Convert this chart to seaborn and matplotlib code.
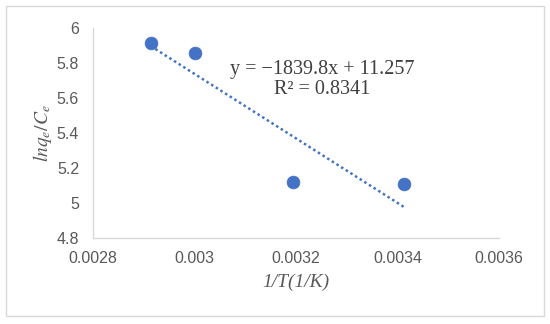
import numpy as np
import pandas as pd
import seaborn as sns
import matplotlib
matplotlib.use("Agg")
import matplotlib.pyplot as plt
from matplotlib.patches import Rectangle

# data
inv_T = [0.002914, 0.003002, 0.003194, 0.003413]
ln_qc = [5.916, 5.857, 5.122, 5.109]

# trendline reported on the chart
slope = -1839.8
intercept = 11.257
r2 = 0.8341

x_ticks = [0.0028, 0.003, 0.0032, 0.0034, 0.0036]
x_tick_labels = ["0.0028", "0.003", "0.0032", "0.0034", "0.0036"]
y_ticks = [4.8, 5, 5.2, 5.4, 5.6, 5.8, 6]
y_tick_labels = ["4.8", "5", "5.2", "5.4", "5.6", "5.8", "6"]

df = pd.DataFrame({"x": inv_T, "y": ln_qc})

sns.set_style("white")
plt.rcParams["font.family"] = ["Liberation Sans", "DejaVu Sans"]
plt.rcParams["mathtext.fontset"] = "stix"

blue = "#4472C4"
grey = "#595959"

fig = plt.figure(figsize=(5.5, 3.24), dpi=100)
ax = fig.add_axes([0.169, 0.265, 0.738, 0.649])

# trend line over data range
xl = np.array([min(inv_T), max(inv_T)])
ax.plot(xl, slope * xl + intercept, linestyle=(0, (1, 1.2)), color=blue, lw=1.8, zorder=2)

sns.scatterplot(data=df, x="x", y="y", ax=ax, s=85, color=blue,
                edgecolor=blue, linewidth=0.5, zorder=3)

ax.set_xlim(0.0028, 0.0036)
ax.set_ylim(4.8, 6)
ax.set_xticks(x_ticks)
ax.set_xticklabels(x_tick_labels)
ax.set_yticks(y_ticks)
ax.set_yticklabels(y_tick_labels)
ax.tick_params(axis="both", length=0, labelsize=11.5, colors=grey)
ax.tick_params(axis="x", pad=9)
ax.tick_params(axis="y", pad=10)

for s in ["top", "right"]:
    ax.spines[s].set_visible(False)
for s in ["left", "bottom"]:
    ax.spines[s].set_color("#d9d9d9")
    ax.spines[s].set_linewidth(1)

ax.set_xlabel("1/T(1/K)", fontsize=14, color=grey, labelpad=6,
              family="Liberation Serif", style="italic")
ax.set_ylabel(r"$lnq_e/C_e$", fontsize=14, color=grey, labelpad=2)

eq = f"y = \u22121839.8x + 11.257\nR\u00b2 = {r2}"
ax.text(0.003252, 5.706, eq, ha="center", va="center", fontsize=14.5,
        family="Liberation Serif", color="#404040", linespacing=1.08)

# outer chart border
fig.patches.append(Rectangle((0.011, 0.025), 0.978, 0.955, transform=fig.transFigure,
                             fill=False, edgecolor="#d9d9d9", linewidth=1))

fig.savefig("out.png", dpi=100)
